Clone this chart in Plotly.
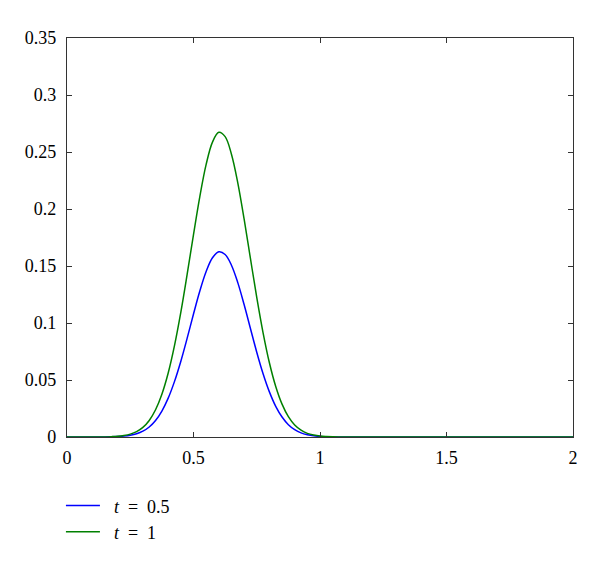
import plotly.graph_objects as go

# Data
x_vals = [0, 0.1, 0.15, 0.175, 0.2, 0.225, 0.25, 0.275, 0.3, 0.325, 0.35, 0.375, 0.4, 0.425,
          0.45, 0.475, 0.5, 0.525, 0.55, 0.575, 0.6, 0.625, 0.65, 0.675, 0.7, 0.725,
          0.75, 0.775, 0.8, 0.825, 0.85, 0.875, 0.9, 0.925, 0.95, 0.975, 1.0, 1.025, 1.05,
          1.1, 1.5, 2.0]
y_blue = [0, 0, 0.0001, 0.0002, 0.0004, 0.0008, 0.0015, 0.0028, 0.0051, 0.0088, 0.0145,
          0.0228, 0.0341, 0.0488, 0.0665, 0.0867, 0.1079, 0.1281, 0.1452, 0.1572, 0.1624,
          0.1601, 0.1507, 0.1354, 0.1162, 0.0952, 0.0744, 0.0555, 0.0396, 0.0269, 0.0175,
          0.0108, 0.0064, 0.0036, 0.0020, 0.0010, 0.0005, 0.0002, 0.0001, 0, 0, 0]
y_green = [0, 0, 0.0001, 0.0003, 0.0006, 0.0013, 0.0025, 0.0047, 0.0084, 0.0145, 0.0239,
           0.0375, 0.0561, 0.0803, 0.1095, 0.1428, 0.1776, 0.2109, 0.2391, 0.2587, 0.2673,
           0.2635, 0.2481, 0.2230, 0.1913, 0.1566, 0.1225, 0.0914, 0.0651, 0.0443, 0.0288,
           0.0178, 0.0105, 0.0060, 0.0032, 0.0017, 0.0008, 0.0004, 0.0002, 0, 0, 0]

series_names = ["\u2002<i>t</i>\u2002=\u20020.5", "\u2002<i>t</i>\u2002=\u20021"]
x_ticks = [0, 0.5, 1, 1.5, 2]
x_ticklabels = ["0", "0.5", "1", "1.5", "2"]
y_ticks = [0, 0.05, 0.1, 0.15, 0.2, 0.25, 0.3, 0.35]
y_ticklabels = ["0", "0.05", "0.1", "0.15", "0.2", "0.25", "0.3", "0.35"]

SERIF = "Liberation Serif, Times New Roman, DejaVu Serif, serif"

fig = go.Figure()
fig.add_trace(go.Scatter(x=x_vals, y=y_blue, mode="lines", name=series_names[0],
                         line=dict(color="#0000ff", width=1.5, shape="spline", smoothing=1)))
fig.add_trace(go.Scatter(x=x_vals, y=y_green, mode="lines", name=series_names[1],
                         line=dict(color="#008000", width=1.5, shape="spline", smoothing=1)))

axis_common = dict(showline=True, linecolor="#333333", linewidth=1.2, mirror="ticks",
                   ticks="inside", ticklen=5, tickcolor="#333333", showgrid=False,
                   zeroline=False, automargin=False,
                   tickfont=dict(family=SERIF, size=18, color="black"))

fig.update_xaxes(range=[0, 2], tickvals=x_ticks, ticktext=x_ticklabels,
                 ticklabelstandoff=4, **axis_common)
fig.update_yaxes(range=[0, 0.35], tickvals=y_ticks, ticktext=y_ticklabels,
                 ticklabelstandoff=6, **axis_common)

fig.update_layout(
    width=600, height=561,
    margin=dict(l=59, r=35, t=30, b=132, autoexpand=False),
    paper_bgcolor="white", plot_bgcolor="white",
    font=dict(family=SERIF, size=18, color="black"),
    legend=dict(x=-0.012, y=-0.126, xanchor="left", yanchor="top",
                bgcolor="rgba(0,0,0,0)", font=dict(family=SERIF, size=18),
                tracegroupgap=0, itemwidth=34),
    showlegend=True,
)

fig.write_html("out.html")
